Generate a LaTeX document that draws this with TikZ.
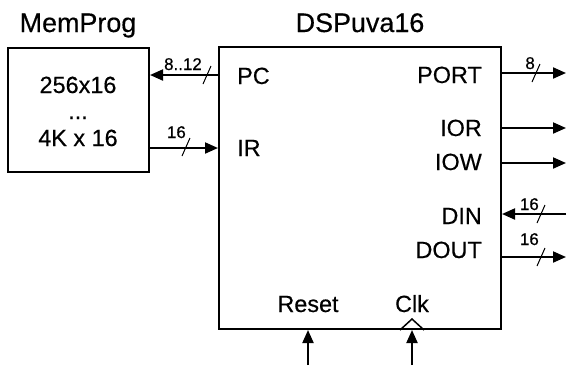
\documentclass[tikz,border=0pt]{standalone}
\usepackage{fontspec}
\setmainfont{Liberation Sans}[FakeBold=0.4]
\usetikzlibrary{arrows.meta,calc}
\begin{document}
\begin{tikzpicture}[x=1bp,y=-1bp,
 box/.style={draw,line width=2bp,inner sep=0},
 sig/.style={line width=2bp,-{Triangle[length=13bp,width=11bp]}},
 lbl/.style={font=\fontsize{23.5}{26}\selectfont,inner sep=0},
 ttl/.style={font=\fontsize{27}{30}\selectfont,inner sep=0},
 bw/.style={font=\fontsize{17}{19}\selectfont,inner sep=0},
 slash/.style={line width=1bp}]
\useasboundingbox (0,0) rectangle (570,365);
% boxes
\node[box,minimum width=141bp,minimum height=124bp] (mem) at (78.5,110) {};
\node[box,minimum width=282bp,minimum height=282bp] (dsp) at (360,188) {};
% titles
\node[ttl,anchor=base] (tmem) at (78,32) {MemProg};
\node[ttl,anchor=base] (tdsp) at (360,32) {DSPuva16};
% memory contents
\node[lbl,anchor=base] (m1) at (78,93) {256x16};
\node[lbl,anchor=base] (m2) at (78,119) {...};
\node[lbl,anchor=base] (m3) at (78,146) {4K x 16};
% port labels
\node[lbl,anchor=base west] (lPC) at (237,84) {PC};
\node[lbl,anchor=base west] (lIR) at (237,156) {IR};
\node[lbl,anchor=base east] (lPORT) at (482,83) {PORT};
\node[lbl,anchor=base east] (lIOR) at (482,136) {IOR};
\node[lbl,anchor=base east] (lIOW) at (482,170) {IOW};
\node[lbl,anchor=base east] (lDIN) at (482,224) {DIN};
\node[lbl,anchor=base east] (lDOUT) at (482,258) {DOUT};
\node[lbl,anchor=base] (lRst) at (308,312) {Reset};
\node[lbl,anchor=base] (lClk) at (412,312) {Clk};
% coordinates
\coordinate (yPC) at (0,75);
\coordinate (yIR) at (0,148);
\coordinate (oPORT) at (566,73);
\coordinate (oIOR) at (566,128);
\coordinate (oIOW) at (566,163);
\coordinate (iDIN) at (566,214);
\coordinate (oDOUT) at (566,257);
\coordinate (iRst) at (308,365);
\coordinate (iClk) at (412,365);
% connectors
\draw[sig] (dsp.west |- yPC) -- (mem.east |- yPC);
\draw[sig] (mem.east |- yIR) -- (dsp.west |- yIR);
\draw[sig] (dsp.east |- oPORT) -- (oPORT);
\draw[sig] (dsp.east |- oIOR) -- (oIOR);
\draw[sig] (dsp.east |- oIOW) -- (oIOW);
\draw[sig] (iDIN) -- (dsp.east |- iDIN);
\draw[sig] (dsp.east |- oDOUT) -- (oDOUT);
\draw[sig] (iRst) -- (dsp.south -| iRst);
\draw[sig] (iClk) -- (dsp.south -| iClk);
% clock triangle
\draw[line width=1.5bp] ($(dsp.south -| iClk)+(-12,0)$) -- ++(12,-11) -- ++(12,11);
% bus slashes and widths
\draw[slash] (203,84) -- (211,66);
\node[bw,anchor=base east] (wPC) at (202,70) {8..12};
\draw[slash] (182,156) -- (190,138);
\node[bw,anchor=base east] (wIR) at (186,138) {16};
\draw[slash] (532,82) -- (540,64);
\node[bw,anchor=base east] (wPORT) at (535,69) {8};
\draw[slash] (537,223) -- (545,205);
\node[bw,anchor=base east] (wDIN) at (539,210) {16};
\draw[slash] (537,266) -- (545,248);
\node[bw,anchor=base east] (wDOUT) at (539,245) {16};
\end{tikzpicture}
\end{document}
